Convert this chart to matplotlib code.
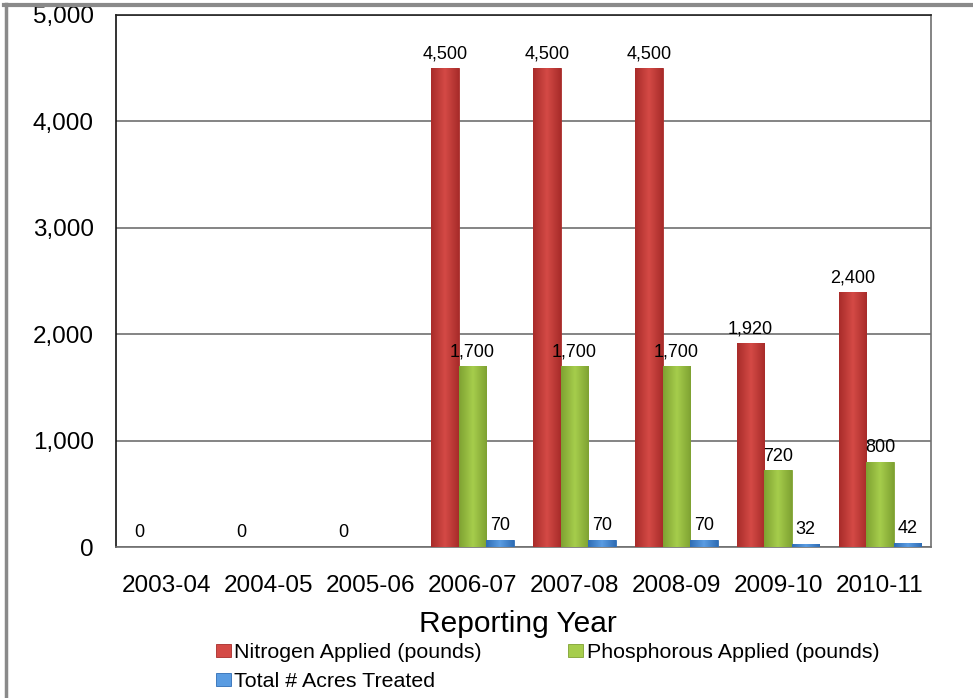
import matplotlib
matplotlib.use("Agg")
import matplotlib.pyplot as plt
import numpy as np
from matplotlib.colors import LinearSegmentedColormap
from matplotlib.lines import Line2D
from matplotlib.ticker import FuncFormatter

plt.rcParams['font.family'] = ['Liberation Sans', 'DejaVu Sans']

# reporting years and the three measured series
years = ['2003-04', '2004-05', '2005-06', '2006-07', '2007-08', '2008-09', '2009-10', '2010-11']
nitrogen = [0, 0, 0, 4500, 4500, 4500, 1920, 2400]
phosphorous = [0, 0, 0, 1700, 1700, 1700, 720, 800]
acres = [0, 0, 0, 70, 70, 70, 32, 42]

series = [
    ('Nitrogen Applied (pounds)', nitrogen, ['#a82c2a', '#d44a46', '#a82c2a']),
    ('Phosphorous Applied (pounds)', phosphorous, ['#7fa232', '#a6cd4c', '#7fa232']),
    ('Total # Acres Treated', acres, ['#2f6db5', '#5a9ce2', '#2f6db5']),
]

fig = plt.figure(figsize=(9.73, 6.98), dpi=100)
ax = fig.add_axes([116 / 973, 1 - 547 / 698, 815 / 973, 532 / 698])

x = np.arange(len(years))
width = 0.27
handles = []
for i, (name, vals, cols) in enumerate(series):
    bars = ax.bar(x + (i - 1) * width, vals, width, color=cols[1],
                  edgecolor=cols[0], linewidth=0.6, zorder=3, label=name)
    handles.append(bars)
    # shaded face for each bar
    cmap = LinearSegmentedColormap.from_list(name, cols)
    grad = np.linspace(0, 1, 64).reshape(1, -1)
    for b in bars:
        if b.get_height() <= 0:
            continue
        im = ax.imshow(grad, cmap=cmap, aspect='auto', zorder=3.5,
                       extent=[b.get_x(), b.get_x() + b.get_width(), 0, b.get_height()])
        im.set_clip_path(b)
    if i == 0:
        labels = [f'{v:,}' for v in vals]
    else:
        labels = [f'{v:,}' if v else '' for v in vals]
    ax.bar_label(bars, labels=labels, padding=4, fontsize=13, zorder=5)

ax.set_xlim(-0.5, len(years) - 0.5)
ax.set_ylim(0, 5000)
ax.set_yticks(np.arange(0, 5001, 1000))
ax.yaxis.set_major_formatter(FuncFormatter(lambda v, p: f'{int(v):,}'))
ax.set_xticks(x)
ax.set_xticklabels(years)
ax.tick_params(axis='y', length=0, pad=16, labelsize=17.5)
ax.tick_params(axis='x', length=0, pad=20, labelsize=17.5)
ax.grid(axis='y', color='#707070', linewidth=1.2, zorder=1)

ax.spines['left'].set_color('#111111')
ax.spines['top'].set_color('#222222')
ax.spines['right'].set_color('#707070')
ax.spines['bottom'].set_color('#707070')
for s in ax.spines.values():
    s.set_linewidth(1.2)

ax.set_xlabel('Reporting Year', fontsize=21.5)
ax.xaxis.set_label_coords(0.493, -0.118)

leg_handles = [handles[0], handles[2], handles[1]]
fig.legend(leg_handles, [h.get_label() for h in leg_handles], ncol=2,
           loc='upper left', bbox_to_anchor=(216 / 973, 1 - 643 / 698),
           frameon=False, fontsize=15.4, borderpad=0, borderaxespad=0,
           handlelength=0.7, handleheight=0.56, handletextpad=0.15,
           columnspacing=4.05, labelspacing=0.45)

# grey frame along the top and left edges
fig.add_artist(Line2D([4 / 973, 1], [1 - 5 / 698, 1 - 5 / 698], color='#8a8a8a',
                      linewidth=3, transform=fig.transFigure))
fig.add_artist(Line2D([5.5 / 973, 5.5 / 973], [0, 1 - 4 / 698], color='#8a8a8a',
                      linewidth=2.5, transform=fig.transFigure))

fig.savefig('out.png', dpi=100)
